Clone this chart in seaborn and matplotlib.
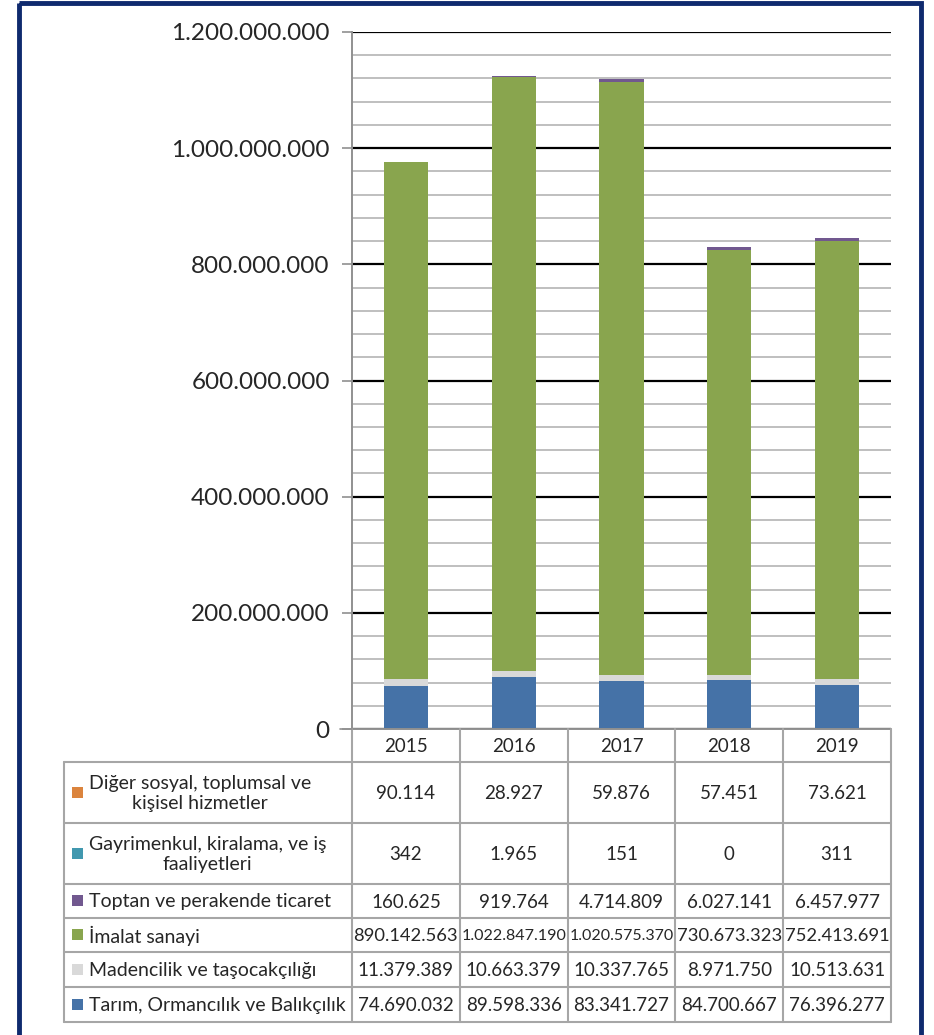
import numpy as np
import pandas as pd
import seaborn as sns
import matplotlib.pyplot as plt
from matplotlib.patches import Rectangle
from matplotlib.ticker import FuncFormatter, MultipleLocator

years = ['2015', '2016', '2017', '2018', '2019']

# series, bottom to top of the stack
tarim = [74690032, 89598336, 83341727, 84700667, 76396277]
madencilik = [11379389, 10663379, 10337765, 8971750, 10513631]
imalat = [890142563, 1022847190, 1020575370, 730673323, 752413691]
toptan = [160625, 919764, 4714809, 6027141, 6457977]
gayrimenkul = [342, 1965, 151, 0, 311]
diger = [90114, 28927, 59876, 57451, 73621]

series_names = [
    'Tarım, Ormancılık ve Balıkçılık',
    'Madencilik ve taşocakçılığı',
    'İmalat sanayi',
    'Toptan ve perakende ticaret',
    'Gayrimenkul, kiralama, ve iş\nfaaliyetleri',
    'Diğer sosyal, toplumsal ve\nkişisel hizmetler',
]
series_values = [tarim, madencilik, imalat, toptan, gayrimenkul, diger]
colors = ['#4572A7', '#D9D9D9', '#89A54E', '#71588F', '#4198AF', '#DB843D']


def tr_fmt(v):
    return f'{int(v):,}'.replace(',', '.')


sns.set_style('white')
plt.rcParams['font.family'] = ['Lato', 'DejaVu Sans']

W, H = 934, 1035
fig = plt.figure(figsize=(W / 100, H / 100), dpi=100)

# plot area in pixel coords
x0, x1, y0, y1 = 352, 891, 32, 729
ax = fig.add_axes([x0 / W, 1 - y1 / H, (x1 - x0) / W, (y1 - y0) / H])

cum = np.zeros(len(years))
cums = []
for vals in series_values:
    cum = cum + np.array(vals, dtype=float)
    cums.append(cum.copy())

# stacked bars: draw cumulative totals from top to bottom
for total, col in reversed(list(zip(cums, colors))):
    sns.barplot(x=years, y=total, color=col, width=0.41, saturation=1,
                ax=ax, edgecolor='none', linewidth=0, zorder=3)

ax.set_ylim(0, 1.2e9)
ax.set_xlim(-0.5, len(years) - 0.5)
ax.yaxis.set_major_locator(MultipleLocator(2e8))
ax.yaxis.set_minor_locator(MultipleLocator(4e7))
ax.yaxis.set_major_formatter(FuncFormatter(lambda v, p: tr_fmt(v)))
ax.grid(which='minor', axis='y', color='#BFBFBF', linewidth=1.4, zorder=0)
ax.grid(which='major', axis='y', color='black', linewidth=1.6, zorder=1)
ax.tick_params(axis='y', which='major', labelsize=17.5, length=7, width=1.2,
               color='#909090', pad=9, left=True)
ax.tick_params(axis='y', which='minor', length=0)
ax.tick_params(axis='x', bottom=False, labelbottom=False)
ax.set_xlabel('')
ax.set_ylabel('')
for s in ['top', 'right', 'bottom']:
    ax.spines[s].set_visible(False)
ax.spines['left'].set_color('#909090')
ax.spines['left'].set_linewidth(1.4)

# data table below the plot
tl = 64
ax_t = fig.add_axes([0, 0, 1, 1])
ax_t.set_xlim(0, W)
ax_t.set_ylim(H, 0)
ax_t.axis('off')

col_w = (x1 - x0) / len(years)
col_edges = [x0 + i * col_w for i in range(len(years) + 1)]
row_h = [33, 61, 61, 34, 34, 35, 35]  # header + rows (top to bottom)
row_edges = [y1]
for h in row_h:
    row_edges.append(row_edges[-1] + h)
grid_col = '#A6A6A6'
lw = 1.5

# horizontal lines
ax_t.plot([x0, x1], [row_edges[0], row_edges[0]], color='#909090', lw=1.4)
for ye in row_edges[1:]:
    ax_t.plot([tl, x1], [ye, ye], color=grid_col, lw=lw)
# vertical lines
for xe in col_edges:
    ax_t.plot([xe, xe], [row_edges[0], row_edges[-1]], color=grid_col, lw=lw)
ax_t.plot([tl, tl], [row_edges[1], row_edges[-1]], color=grid_col, lw=lw)
ax_t.plot([x0 - 12, x0], [y1, y1], color='#909090', lw=1.2)

fs = 13.5
for i, yr in enumerate(years):
    cx = (col_edges[i] + col_edges[i + 1]) / 2
    ax_t.text(cx, (row_edges[0] + row_edges[1]) / 2 + 1, yr, ha='center',
              va='center', fontsize=fs)

renderer = fig.canvas.get_renderer()
# table rows: top row is the last series
for r, idx in enumerate(reversed(range(len(series_names)))):
    ya, yb = row_edges[r + 1], row_edges[r + 2]
    cy = (ya + yb) / 2 + 1
    ax_t.add_patch(Rectangle((72, cy - 7), 11, 11, color=colors[idx], lw=0))
    ax_t.text(89, cy, series_names[idx], ha='left', va='center',
              multialignment='center', fontsize=14, linespacing=1.25)
    for i, v in enumerate(series_values[idx]):
        cx = (col_edges[i] + col_edges[i + 1]) / 2
        t = ax_t.text(cx, cy, tr_fmt(v), ha='center', va='center', fontsize=fs)
        # shrink values that do not fit in their cell
        wpx = t.get_window_extent(renderer).width
        if wpx > col_w - 3:
            t.set_fontsize(fs * (col_w - 3) / wpx)

# outer frame
ax_t.add_patch(Rectangle((19, 3), 902, 1040, fill=False, edgecolor='#0F2A6E',
                         lw=3.5, clip_on=False))

fig.savefig('out.png', dpi=100)
